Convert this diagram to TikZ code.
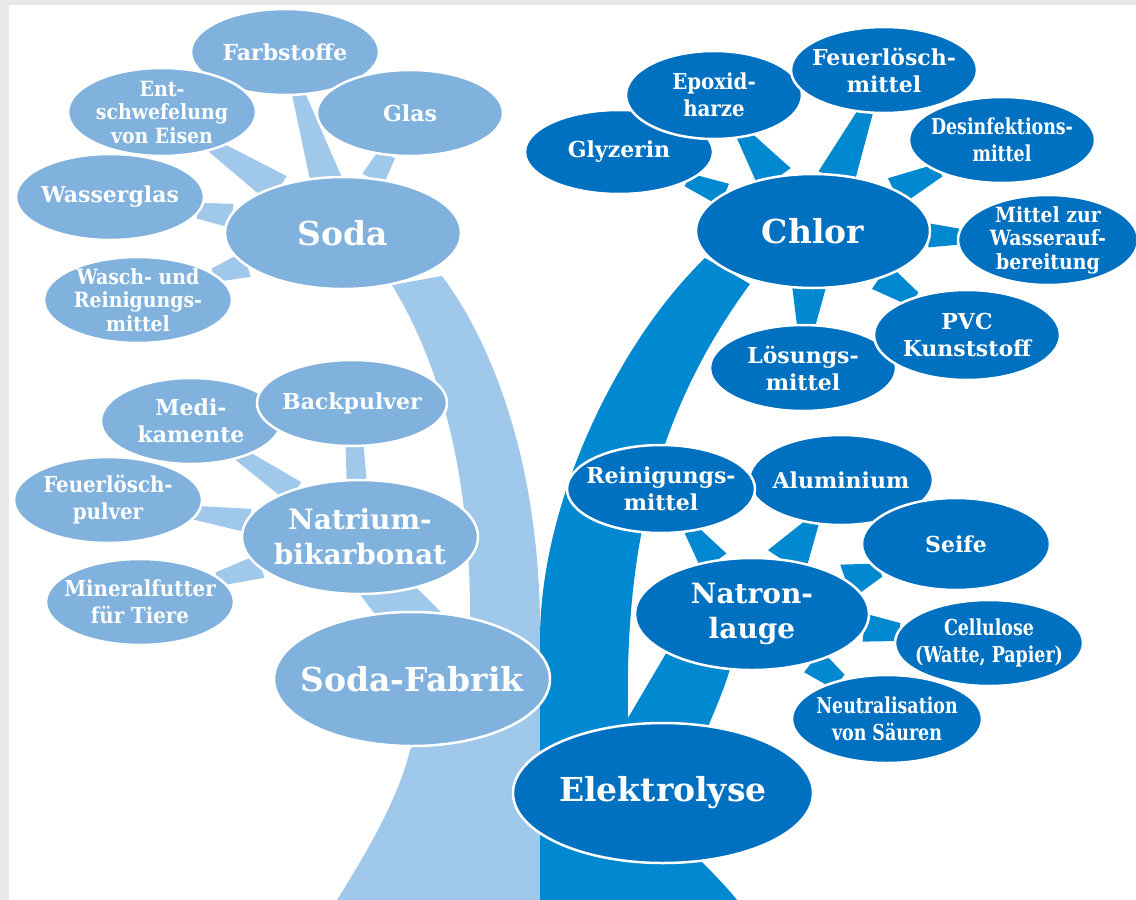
\documentclass[tikz,border=0pt]{standalone}
\usepackage{fontspec}
\setmainfont{DejaVu Serif}
\newfontfamily\condfont{DejaVu Serif Condensed}
\newfontfamily\narrowfont[FakeStretch=0.88]{DejaVu Serif Condensed}
\usetikzlibrary{shapes.geometric,calc}
\definecolor{ellL}{HTML}{80B2DD}
\definecolor{trL}{HTML}{9FC8EA}
\definecolor{ellD}{HTML}{0070C0}
\definecolor{trD}{HTML}{0088D0}
\definecolor{frameC}{HTML}{E8E8E8}
\pgfdeclarelayer{frame}
\pgfdeclarelayer{trunk}
\pgfdeclarelayer{conn}
\pgfsetlayers{frame,trunk,conn,main}
\newcommand\Conn[5]{% color, child, parent, half width at child, half width at parent
  \path (#2) -- (#3) coordinate[pos=-0.08] (cA) coordinate[pos=1.08] (cB);
  \fill[#1] ($(cA)!#4pt!90:(cB)$) -- ($(cA)!#4pt!-90:(cB)$) -- ($(cB)!#5pt!90:(cA)$) -- ($(cB)!#5pt!-90:(cA)$) -- cycle;}
\tikzset{
  bub/.style={ellipse, draw=white, line width=2.5pt, inner sep=0pt},
  lt/.style={bub, fill=ellL},
  dk/.style={bub, fill=ellD},
  sz/.style 2 args={minimum width=#1pt, minimum height=#2pt},
  txt/.style={text=white, align=center, inner sep=0pt,
    font=\bfseries\fontsize{22}{27}\selectfont},
  ctxt/.style={txt, font=\condfont\bfseries\fontsize{22}{27}\selectfont},
  ntxt/.style={txt, font=\narrowfont\bfseries\fontsize{22}{27}\selectfont},
  three/.style={txt, font=\condfont\bfseries\fontsize{21}{23.5}\selectfont},
  bigtxt/.style={txt, font=\bfseries\fontsize{33}{38}\selectfont},
  midtxt/.style={txt, font=\bfseries\fontsize{28}{35}\selectfont},
  t/.style={label={[txt]center:{#1}}},
  tc/.style={label={[ctxt]center:{#1}}},
  tn/.style={label={[ntxt]center:{#1}}},
  t3/.style={label={[three]center:{#1}}},
  tbig/.style={label={[bigtxt]center:{#1}}},
  tmid/.style={label={[midtxt]center:{#1}}}
}
\begin{document}
\begin{tikzpicture}[x=1pt,y=-1pt]
\useasboundingbox (0,0) rectangle (1136,900);
\begin{pgfonlayer}{frame}
  \fill[frameC] (0,0) rectangle (1136,900);
  \fill[white] (9,5) rectangle (1136,900);
\end{pgfonlayer}
% light nodes
\node[lt, sz={188}{86}, t={Farbstoffe}] (farb) at (285,52) {};
\node[lt, sz={188}{88}, t3={Ent-\\schwefelung\\von Eisen}] (entsch) at (162,112) {};
\node[lt, sz={186}{86}, t={Glas}] (glas) at (410,113) {};
\node[lt, sz={188}{86}, t={Wasserglas}] (wglas) at (110,197) {};
\node[lt, sz={236}{112}, tbig={Soda}] (soda) at (343,233) {};
\node[lt, sz={188}{86}, t3={Wasch- und\\Reinigungs-\\mittel}] (wasch) at (138,300) {};
\node[lt, sz={180}{86}, t={Medi-\\kamente}] (medi) at (191,421) {};
\node[lt, sz={190}{86}, t={Backpulver}] (back) at (352,403) {};
\node[lt, sz={188}{86}, tc={Feuerlösch-\\pulver}] (feuerp) at (108,500) {};
\node[lt, sz={236}{114}, tmid={Natrium-\\bikarbonat}] (natr) at (360,537) {};
\node[lt, sz={188}{86}, tc={Mineralfutter\\für Tiere}] (miner) at (140,602) {};
\node[lt, sz={276}{134}, tbig={Soda-Fabrik}] (sfab) at (412,679) {};
% dark nodes
\node[dk, sz={188}{84}, t={Glyzerin}] (glyz) at (619,152) {};
\node[dk, sz={176}{88}, tc={Epoxid-\\harze}] (epox) at (714,95) {};
\node[dk, sz={186}{86}, t={Feuerlösch-\\mittel}] (feuerm) at (884,70) {};
\node[dk, sz={186}{86}, tn={Desinfektions-\\mittel}] (desinf) at (1002,140) {};
\node[dk, sz={234}{114}, tbig={Chlor}] (chlor) at (813,231) {};
\node[dk, sz={180}{90}, t3={Mittel zur\\Wasserauf-\\bereitung}] (wasser) at (1048,240) {};
\node[dk, sz={186}{86}, t={Lösungs-\\mittel}] (loes) at (803,368) {};
\node[dk, sz={186}{90}, t={PVC\\Kunststoff}] (pvc) at (967,335) {};
\node[dk, sz={184}{90}, t={Aluminium}] (alu) at (841,480) {};
\node[dk, sz={188}{88}, t={Reinigungs-\\mittel}] (reinig) at (661,489) {};
\node[dk, sz={188}{92}, t={Seife}] (seife) at (956,544) {};
\node[dk, sz={234}{112}, tmid={Natron-\\lauge}] (natron) at (752,614) {};
\node[dk, sz={190}{88}, tn={Neutralisation\\von Säuren}] (neutral) at (887,719) {};
\node[dk, sz={188}{86}, tn={Cellulose\\(Watte, Papier)}] (cellu) at (989,643) {};
\node[dk, sz={300}{140}, tbig={Elektrolyse}] (elek) at (663,793) {};
% trunks
\begin{pgfonlayer}{trunk}
  \fill[trL] (337,900) .. controls (365,855) and (398,800) .. (410,750)
    -- (470,640) -- (470,612) .. controls (470,500) and (450,380) .. (392,285)
    -- (442,276) .. controls (490,340) and (540,460) .. (540,630) -- (540,900) -- cycle;
  \fill[trD] (540,900) -- (540,640) .. controls (540,500) and (620,340) .. (705,258)
    -- (750,284) .. controls (650,420) and (625,560) .. (628,718)
    -- (668,650) -- (732,662) .. controls (722,700) and (700,740) .. (690,775)
    -- (690,850) .. controls (710,870) and (725,885) .. (737,900) -- cycle;
\end{pgfonlayer}
% connectors
\begin{pgfonlayer}{conn}
  \Conn{trL}{farb}{soda}{6}{16}
  \Conn{trL}{entsch}{soda}{7}{16}
  \Conn{trL}{glas}{soda}{9}{12}
  \Conn{trL}{wglas}{soda}{8}{12}
  \Conn{trL}{wasch}{soda}{7}{13}
  \Conn{trL}{medi}{natr}{7}{12}
  \Conn{trL}{back}{natr}{9}{10}
  \Conn{trL}{feuerp}{natr}{7}{12}
  \Conn{trL}{miner}{natr}{7}{12}
  \fill[trL] ($(natr.center)+(-11,43)$) -- ($(natr.center)+(49,43)$)
    -- ($(sfab.center)+(47,-49)$) -- ($(sfab.center)+(-25,-49)$) -- cycle;
  \Conn{trD}{glyz}{chlor}{7}{12}
  \Conn{trD}{epox}{chlor}{7}{19}
  \Conn{trD}{feuerm}{chlor}{7}{19}
  \Conn{trD}{desinf}{chlor}{7}{15}
  \Conn{trD}{wasser}{chlor}{8}{12}
  \Conn{trD}{pvc}{chlor}{8}{15}
  \Conn{trD}{loes}{chlor}{9}{17}
  \Conn{trD}{reinig}{natron}{7}{15}
  \Conn{trD}{alu}{natron}{6}{22}
  \Conn{trD}{seife}{natron}{7}{18}
  \Conn{trD}{cellu}{natron}{9}{14}
  \Conn{trD}{neutral}{natron}{9}{14}
\end{pgfonlayer}
\end{tikzpicture}
\end{document}
